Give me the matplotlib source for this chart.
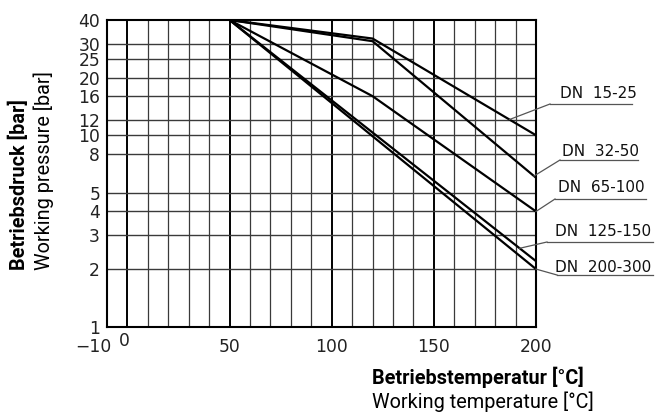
import matplotlib

matplotlib.use("Agg")
import matplotlib.pyplot as plt
import matplotlib.transforms as mtransforms
import numpy as np

# pressure/temperature curves
series_names = ["DN  15-25", "DN  32-50", "DN  65-100", "DN  125-150", "DN  200-300"]
temp_1525 = [50, 120, 200]
pres_1525 = [40, 32, 10]
temp_3250 = [50, 120, 200]
pres_3250 = [40, 31, 6]
temp_65100 = [50, 120, 200]
pres_65100 = [40, 16, 4]
temp_125150 = [50, 200]
pres_125150 = [40, 2.2]
temp_200300 = [50, 200]
pres_200300 = [40, 2.0]

# temperature where each leader line touches its curve
leader_temps = [187, 199, 200, 192, 200]

y_ticks = [1, 2, 3, 4, 5, 8, 10, 12, 16, 20, 25, 30, 40]
x_ticks = [-10, 0, 50, 100, 150, 200]

W, H = 656, 412
fig = plt.figure(figsize=(W / 100, H / 100), dpi=100)
ax = fig.add_axes([107 / W, 1 - 326.7 / H, 429 / W, 306.7 / H])
ax.set_yscale("log")
ax.set_xlim(-10, 200)
ax.set_ylim(1, 40)

grid_color = "#3a3a3a"
for t in range(0, 200, 10):
    lw = 1.4 if t % 50 == 0 else 0.9
    ax.axvline(t, color="black" if t % 50 == 0 else grid_color, lw=lw, zorder=1)
for p in y_ticks[1:-1]:
    x_end = 140 if p == 25 else 200
    ax.hlines(p, -10, x_end, color=grid_color, lw=1.0, zorder=1)

for spine in ax.spines.values():
    spine.set_linewidth(1.5)
    spine.set_color("black")

curves = [
    (temp_1525, pres_1525),
    (temp_3250, pres_3250),
    (temp_65100, pres_65100),
    (temp_125150, pres_125150),
    (temp_200300, pres_200300),
]
for temps, pres in curves:
    ax.plot(temps, pres, color="black", lw=1.6, zorder=3, solid_capstyle="round")

ax.set_yticks(y_ticks)
ax.set_yticklabels([str(v) for v in y_ticks])
ax.yaxis.set_minor_locator(matplotlib.ticker.NullLocator())
ax.set_xticks(x_ticks)
ax.set_xticklabels(["\u221210"] + [str(v) for v in x_ticks[1:]])
ax.tick_params(axis="both", length=0, labelsize=12.3, labelcolor="#222222")
ax.tick_params(axis="y", pad=5)
ax.tick_params(axis="x", pad=8)

# nudge the first two x labels like on the drawing
xlabels = ax.get_xticklabels()
xlabels[0].set_transform(xlabels[0].get_transform()
                         + mtransforms.ScaledTranslation(-14 / 100, 0, fig.dpi_scale_trans))
xlabels[1].set_transform(xlabels[1].get_transform()
                         + mtransforms.ScaledTranslation(-3 / 100, 6 / 100, fig.dpi_scale_trans))

# DN labels with underline and leader, layout in pixels (top origin)
label_layout = [
    # text_x, text_cy, line_y, line_x0, line_x1
    (560, 93, 104, 550, 632),
    (562, 151, 160, 560, 638),
    (558, 188, 199, 555, 646),
    (555, 232, 242, 547, 653),
    (555, 267, 275, 557, 653),
]
to_fig = lambda x, y: (x / W, 1 - y / H)
for name, (temps, pres), t_lead, (tx, ty, ly, lx0, lx1) in zip(
    series_names, curves, leader_temps, label_layout
):
    p_lead = 10 ** np.interp(t_lead, temps, np.log10(pres))
    anchor = fig.transFigure.inverted().transform(ax.transData.transform((t_lead, p_lead)))
    start = to_fig(lx0, ly)
    end = to_fig(lx1, ly)
    fig.add_artist(plt.Line2D([anchor[0], start[0]], [anchor[1], start[1]],
                              color="#555555", lw=0.9))
    fig.add_artist(plt.Line2D([start[0], end[0]], [start[1], end[1]],
                              color="#555555", lw=0.9))
    fig.text(*to_fig(tx, ty), name, ha="left", va="center", fontsize=11,
             family="DejaVu Sans", color="#111111")

label_font = ["Roboto", "DejaVu Sans"]
fig.text(*to_fig(19, 270), "Betriebsdruck [bar]", rotation=90, ha="center", va="bottom",
         fontsize=14.3, fontweight="bold", family=label_font)
fig.text(*to_fig(44, 270), "Working pressure [bar]", rotation=90, ha="center", va="bottom",
         fontsize=14.3, family=label_font)
fig.text(*to_fig(372, 377), "Betriebstemperatur [°C]", ha="left", va="center",
         fontsize=14.3, fontweight="bold", family=label_font)
fig.text(*to_fig(372, 402), "Working temperature [°C]", ha="left", va="center",
         fontsize=14.3, family=label_font)

fig.savefig("out.png", dpi=100)
